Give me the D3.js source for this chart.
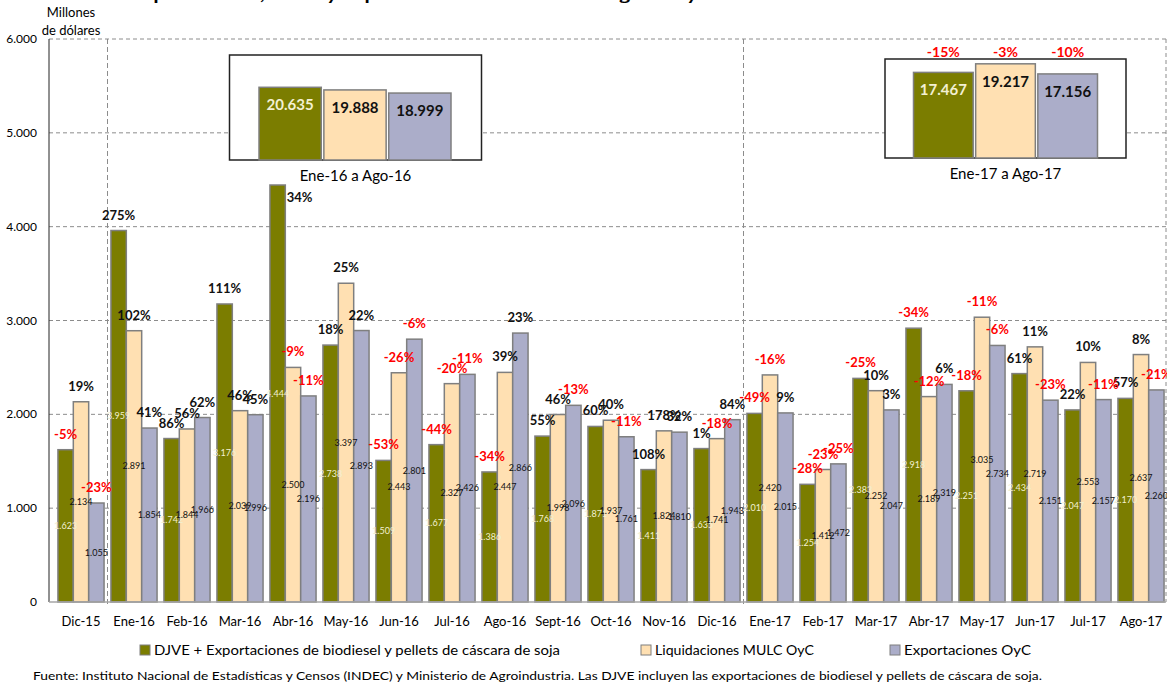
<!DOCTYPE html>
<html>
<head>
<meta charset="utf-8">
<script src="https://cdn.jsdelivr.net/npm/d3@7"></script>
<style>
  body { margin: 0; background: #fff; }
  svg { display: block; font-family: Lato, "Open Sans", "Liberation Sans", sans-serif; }
</style>
</head>
<body>
<svg id="chart" width="1167" height="686"></svg>
<script>
// monthly values, millones de dólares
const months = ["Dic-15","Ene-16","Feb-16","Mar-16","Abr-16","May-16","Jun-16","Jul-16","Ago-16","Sept-16","Oct-16","Nov-16","Dic-16","Ene-17","Feb-17","Mar-17","Abr-17","May-17","Jun-17","Jul-17","Ago-17"];
const djve = [1623, 3959, 1742, 3176, 4444, 2738, 1509, 1677, 1386, 1768, 1871, 1411, 1635, 2010, 1254, 2383, 2918, 2251, 2434, 2047, 2170];
const liquidaciones = [2134, 2891, 1844, 2039, 2500, 3397, 2443, 2327, 2447, 1998, 1937, 1824, 1741, 2420, 1412, 2252, 2189, 3035, 2719, 2553, 2637];
const exportaciones = [1055, 1854, 1966, 1996, 2196, 2893, 2801, 2426, 2866, 2096, 1761, 1810, 1943, 2015, 1472, 2047, 2319, 2734, 2151, 2157, 2260];
// variación interanual (%)
const pctDjve = [-5, 275, 86, 111, 34, 18, -53, -44, -34, 55, 60, 108, 1, -49, -28, -25, -34, -18, 61, 22, 57];
const pctLiq = [19, 102, 56, 46, -9, 25, -26, -20, 39, 46, 40, 178, -18, -16, -23, 10, -12, -11, 11, 10, 8];
const pctExp = [-23, 41, 62, 45, -11, 22, -6, -11, 23, -13, -11, 32, 84, 9, -25, 3, 6, -6, -23, -11, -21];
const yTicks = [0, 1000, 2000, 3000, 4000, 5000, 6000];

// acumulados
const totals16 = [20635, 19888, 18999];
const totals17 = [17467, 19217, 17156];
const pctTotals17 = [-15, -3, -10];

const seriesNames = ["DJVE + Exportaciones de biodiesel y pellets de cáscara de soja", "Liquidaciones MULC OyC", "Exportaciones OyC"];
const colors = ["#7b7d00", "#ffe0b2", "#abadc9"];
const labelColors = ["#f3f0d2", "#111", "#111"];

const loc = d3.formatLocale({decimal: ",", thousands: ".", grouping: [3], currency: ["$", ""]});
const fmt = loc.format(",d");

const svg = d3.select("#chart");
const pLeft = 49, pRight = 1166, pTop = 39, pBottom = 602;

const x = d3.scaleBand().domain(months).range([54.5, 1167.5]).paddingInner(0.13).paddingOuter(0.065);
const xs = d3.scaleBand().domain([0, 1, 2]).range([0, x.bandwidth()]);
const y = d3.scaleLinear().domain([0, 6000]).range([pBottom, pTop]);

const series = [djve, liquidaciones, exportaciones];
const pcts = [pctDjve, pctLiq, pctExp];

// a label that sits beside its bar in the original (series-month key -> [dx, dy])
const nudge = {"0-Abr-16": [22, 28]};

// title, cut at the top edge like the source image
svg.append("text")
    .attr("x", 130).attr("y", 0)
    .attr("textLength", 660).attr("lengthAdjust", "spacingAndGlyphs")
    .style("font-size", "16px").style("font-weight", "700")
    .text("Liquidaciones, DJVE y exportaciones del sector oleaginoso y cerealero");

// gridlines
svg.append("g").selectAll("line")
    .data(yTicks.filter(d => d > 0))
    .join("line")
    .attr("x1", pLeft).attr("x2", pRight)
    .attr("y1", d => y(d)).attr("y2", d => y(d))
    .attr("stroke", "#8c8c8c").attr("stroke-dasharray", "4,3");

// period separators
const seps = [[months[0], months[1]], [months[12], months[13]]];
svg.append("g").selectAll("line")
    .data(seps)
    .join("line")
    .attr("x1", d => (x(d[0]) + x.bandwidth() + x(d[1])) / 2)
    .attr("x2", d => (x(d[0]) + x.bandwidth() + x(d[1])) / 2)
    .attr("y1", pTop).attr("y2", pBottom + 4)
    .attr("stroke", "#8c8c8c").attr("stroke-dasharray", "5,3");

svg.append("line")
    .attr("x1", pRight).attr("x2", pRight).attr("y1", pTop).attr("y2", pBottom)
    .attr("stroke", "#8c8c8c").attr("stroke-dasharray", "4,3");

// y axis
svg.append("line").attr("x1", pLeft).attr("x2", pLeft).attr("y1", pTop).attr("y2", pBottom)
    .attr("stroke", "#222").attr("stroke-width", 1);
svg.append("g").selectAll("text")
    .data(yTicks)
    .join("text")
    .attr("x", 37).attr("y", d => y(d) + 4)
    .attr("text-anchor", "end")
    .style("font-size", "12px")
    .text(d => fmt(d));

svg.append("text").attr("x", 71).attr("y", 17).attr("text-anchor", "middle").style("font-size", "13px").text("Millones");
svg.append("text").attr("x", 71).attr("y", 35).attr("text-anchor", "middle").style("font-size", "13px").text("de dólares");

// bars first, labels after so they are not covered
series.forEach((vals, s) => {
    svg.append("g").selectAll("rect")
        .data(vals)
        .join("rect")
        .attr("x", (d, i) => x(months[i]) + xs(s))
        .attr("y", d => y(d))
        .attr("width", xs.bandwidth())
        .attr("height", d => pBottom - y(d))
        .attr("fill", colors[s])
        .attr("stroke", "#7f7f7f").attr("stroke-width", 1.5);
});

series.forEach((vals, s) => {
    const g = svg.append("g");
    g.selectAll("text.val")
        .data(vals)
        .join("text")
        .attr("class", "val")
        .attr("x", (d, i) => x(months[i]) + xs(s) + xs.bandwidth() / 2)
        .attr("y", d => (y(d) + pBottom) / 2 + 3)
        .attr("text-anchor", "middle")
        .attr("fill", labelColors[s])
        .style("font-size", "9px")
        .text(d => fmt(d));

    const nd = i => nudge[s + "-" + months[i]] || [0, 0];
    g.selectAll("text.pct")
        .data(pcts[s])
        .join("text")
        .attr("class", "pct")
        .attr("x", (d, i) => x(months[i]) + xs(s) + xs.bandwidth() / 2 + nd(i)[0])
        .attr("y", (d, i) => y(vals[i]) - 11 + nd(i)[1])
        .attr("text-anchor", "middle")
        .attr("fill", d => d < 0 ? "#ff0000" : "#111")
        .style("font-size", "13px").style("font-weight", "700")
        .text(d => d + "%");
});

// x axis
svg.append("line").attr("x1", pLeft).attr("x2", pRight).attr("y1", pBottom).attr("y2", pBottom)
    .attr("stroke", "#a6a6a6").attr("stroke-width", 1.5);
svg.append("g").selectAll("text")
    .data(months)
    .join("text")
    .attr("x", d => x(d) + x.bandwidth() / 2)
    .attr("y", 626)
    .attr("text-anchor", "middle")
    .style("font-size", "13px")
    .text(d => d);

// inset boxes
function inset(x0, y0, w, h, barX0, barX1, maxV, vals, pctVals, caption) {
    const g = svg.append("g");
    g.append("rect").attr("x", x0).attr("y", y0).attr("width", w).attr("height", h)
        .attr("fill", "#fff").attr("stroke", "#222").attr("stroke-width", 1.5);
    const bx = d3.scaleBand().domain([0, 1, 2]).range([barX0, barX1]).paddingInner(0.04);
    const by = d3.scaleLinear().domain([0, maxV]).range([y0 + h, y0]);
    g.selectAll("rect.b")
        .data(vals)
        .join("rect")
        .attr("class", "b")
        .attr("x", (d, i) => bx(i))
        .attr("y", d => by(d))
        .attr("width", bx.bandwidth())
        .attr("height", d => y0 + h - by(d))
        .attr("fill", (d, i) => colors[i])
        .attr("stroke", "#7f7f7f").attr("stroke-width", 1.5);
    g.selectAll("text.v")
        .data(vals)
        .join("text")
        .attr("class", "v")
        .attr("x", (d, i) => bx(i) + bx.bandwidth() / 2)
        .attr("y", d => by(d) + 23)
        .attr("text-anchor", "middle")
        .attr("fill", (d, i) => labelColors[i])
        .style("font-size", "15px").style("font-weight", "700")
        .text(d => fmt(d));
    if (pctVals) {
        g.selectAll("text.p")
            .data(pctVals)
            .join("text")
            .attr("class", "p")
            .attr("x", (d, i) => bx(i) + bx.bandwidth() / 2)
            .attr("y", 57)
            .attr("text-anchor", "middle")
            .attr("fill", "#ff0000")
            .style("font-size", "14px").style("font-weight", "700")
            .text(d => d + "%");
    }
    g.append("text").attr("x", x0 + w / 2).attr("y", y0 + h + 21)
        .attr("text-anchor", "middle").style("font-size", "15px").text(caption);
}
inset(229.5, 55, 252, 105, 259, 451, 29800, totals16, null, "Ene-16 a Ago-16");
inset(885, 59, 241, 99, 913.5, 1097.5, 20200, totals17, pctTotals17, "Ene-17 a Ago-17");

// legend
const legendX = [140, 641, 890];
const legendW = [406, 159, 127];
const lg = svg.append("g");
seriesNames.forEach((n, i) => {
    lg.append("rect").attr("x", legendX[i]).attr("y", 645).attr("width", 10).attr("height", 10)
        .attr("fill", colors[i]).attr("stroke", "#7f7f7f").attr("stroke-width", 1);
    lg.append("text").attr("x", legendX[i] + 14).attr("y", 655)
        .attr("textLength", legendW[i]).attr("lengthAdjust", "spacingAndGlyphs")
        .style("font-size", "14px").text(n);
});

svg.append("text").attr("x", 33).attr("y", 680)
    .attr("textLength", 1009).attr("lengthAdjust", "spacingAndGlyphs")
    .style("font-size", "11.5px")
    .text("Fuente: Instituto Nacional de Estadísticas y Censos (INDEC) y Ministerio de Agroindustria. Las DJVE incluyen las exportaciones de biodiesel y pellets de cáscara de soja.");
</script>
</body>
</html>
